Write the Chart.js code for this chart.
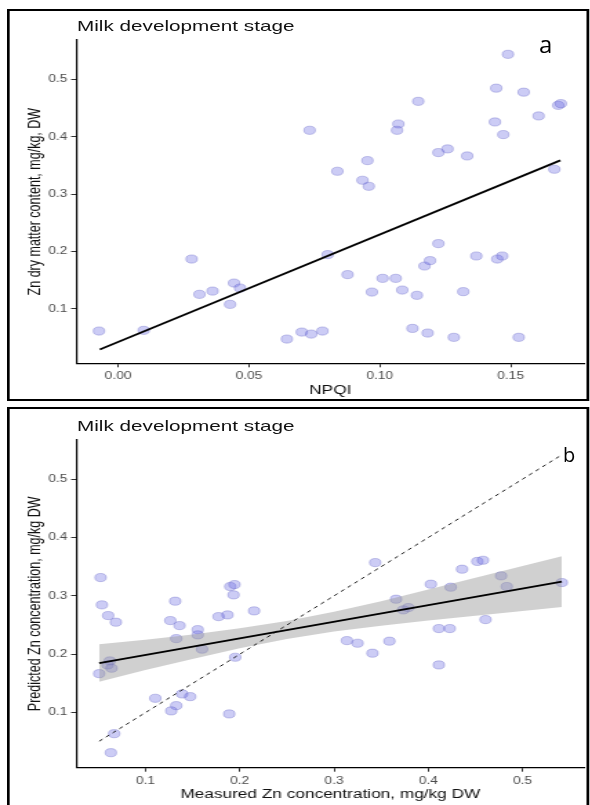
<!DOCTYPE html>
<html>
<head>
<meta charset="utf-8">
<script src="https://cdn.jsdelivr.net/npm/chart.js@4.4.0/dist/chart.umd.min.js"></script>
<style>
  html, body { margin: 0; padding: 0; background: #fff; width: 590px; height: 805px; overflow: hidden; }
  /* the original figure is stretched horizontally, so the whole thing is drawn narrow and scaled */
  #stretch { position: absolute; left: 0; top: 0; width: 428px; height: 805px; transform: scaleX(1.38); transform-origin: 0 0; }
  .panel { position: absolute; border: 2px solid #000; box-sizing: border-box; }
  canvas { position: absolute; left: 0; }
  .title { position: absolute; font: 15px 'Liberation Sans', Arial, sans-serif; line-height: 15px; color: #111; white-space: nowrap; }
  .tag { position: absolute; font-family: 'Open Sans', sans-serif; color: #000; white-space: nowrap; }
</style>
</head>
<body>
<div id="stretch">
  <canvas id="chartA" width="428" height="402" style="top:0;width:428px;height:402px"></canvas>
  <canvas id="chartB" width="428" height="401" style="top:404px;width:428px;height:401px"></canvas>
  <div class="panel" style="left:5px;top:9px;width:422px;height:392px"></div>
  <div class="panel" style="left:5px;top:407px;width:422px;height:402px"></div>
  <div class="title" style="left:55.8px;top:18px">Milk development stage</div>
  <div class="title" style="left:55.8px;top:417.5px">Milk development stage</div>
</div>
<div class="tag" style="left:539px;top:32px;font-size:24px;line-height:24px">a</div>
<div class="tag" style="left:563px;top:445px;font-size:20px;line-height:20px">b</div>

<script>
// panel a: NPQI against Zn dry matter content
const npqiA = [0.149, 0.1445, 0.155, 0.1682, 0.1692, 0.1147, 0.1607, 0.0732, 0.1071, 0.1066,
  0.144, 0.1472, 0.1224, 0.1259, 0.1334, 0.0953, 0.0838, 0.0934, 0.0958, 0.1667,
  0.0281, 0.0311, 0.0361, 0.0443, 0.0466, 0.0428, -0.0073, 0.0098, 0.0645, 0.0702,
  0.0738, 0.0781, 0.0801, 0.0877, 0.097, 0.1011, 0.1061, 0.1086, 0.1142, 0.1171,
  0.1192, 0.1224, 0.1369, 0.1449, 0.1468, 0.1319, 0.1125, 0.1183, 0.1283, 0.1531];
const znA = [0.544, 0.485, 0.478, 0.455, 0.458, 0.462, 0.4365, 0.4115, 0.4225, 0.4115,
  0.426, 0.404, 0.3726, 0.379, 0.3667, 0.3586, 0.340, 0.3243, 0.3138, 0.3435,
  0.1869, 0.1253, 0.131, 0.145, 0.1363, 0.1078, 0.0613, 0.0625, 0.0473, 0.0595,
  0.056, 0.0613, 0.1946, 0.1597, 0.1293, 0.1532, 0.1532, 0.1328, 0.1236, 0.1747,
  0.1841, 0.2138, 0.1922, 0.1869, 0.1922, 0.130, 0.0659, 0.0578, 0.0503, 0.0503];
const fitAx = [-0.007, 0.169];
const fitAy = [0.029, 0.359];
const xTicksA = [0, 0.05, 0.10, 0.15];
const yTicksA = [0.1, 0.2, 0.3, 0.4, 0.5];

// panel b: measured against predicted Zn
const measuredB = [0.0525, 0.0539, 0.1316, 0.19, 0.1945, 0.1935, 0.2153, 0.0605, 0.0687, 0.1264,
  0.1362, 0.1327, 0.1555, 0.1555, 0.1601, 0.1776, 0.1871, 0.051, 0.0623, 0.0599,
  0.0641, 0.1953, 0.1105, 0.139, 0.1475, 0.1327, 0.1274, 0.1889, 0.0669, 0.0634,
  0.3437, 0.4358, 0.452, 0.458, 0.4772, 0.4832, 0.5416, 0.4027, 0.4238, 0.3658,
  0.3735, 0.3788, 0.4607, 0.4112, 0.4228, 0.3137, 0.325, 0.3588, 0.3408, 0.4112];
const predictedB = [0.3314, 0.2846, 0.2909, 0.316, 0.3194, 0.3017, 0.2743, 0.2663, 0.2549, 0.2577,
  0.2491, 0.2268, 0.2422, 0.2332, 0.2087, 0.2645, 0.2674, 0.1668, 0.1886, 0.1817,
  0.1761, 0.1949, 0.1246, 0.132, 0.1274, 0.112, 0.103, 0.0978, 0.064, 0.0314,
  0.357, 0.3457, 0.359, 0.361, 0.3343, 0.316, 0.3228, 0.32, 0.3149, 0.2943,
  0.276, 0.28, 0.2594, 0.244, 0.244, 0.2234, 0.2189, 0.2224, 0.2018, 0.1817];
const fitBx = [0.051, 0.5416];
const fitBy = [0.185, 0.3245];
const bandX = [0.051, 0.1, 0.15, 0.2, 0.25, 0.3, 0.35, 0.4, 0.45, 0.5, 0.5416];
const bandLow = [0.153, 0.173, 0.192, 0.2105, 0.226, 0.239, 0.249, 0.258, 0.266, 0.274, 0.281];
const bandHigh = [0.217, 0.225, 0.234, 0.2445, 0.257, 0.273, 0.291, 0.311, 0.331, 0.351, 0.368];
const oneToOne = [0.051, 0.54];
const xTicksB = [0.1, 0.2, 0.3, 0.4, 0.5];
const yTicksB = [0.1, 0.2, 0.3, 0.4, 0.5];

Chart.defaults.font.family = "'Liberation Sans', Arial, sans-serif";

function pairs(xs, ys) {
  return xs.map(function(x, i) { return { x: x, y: ys[i] }; });
}

const pointStyle = {
  pointRadius: 4.1,
  pointBackgroundColor: 'rgba(100,100,225,0.33)',
  pointBorderColor: 'rgba(80,80,190,0.38)',
  pointBorderWidth: 0.8
};

function axis(o) {
  return {
    type: 'linear',
    min: o.min,
    max: o.max,
    afterBuildTicks: function(scale) {
      scale.ticks = o.ticks.map(function(v) { return { value: v }; });
    },
    afterFit: function(scale) {
      if (o.width) scale.width = o.width;
      if (o.height) scale.height = o.height;
    },
    ticks: {
      color: '#4d4d4d',
      font: { size: 10 },
      padding: o.tickPad,
      autoSkip: false,
      maxRotation: 0,
      callback: function(v) { return Number(v).toFixed(o.digits); }
    },
    grid: { drawOnChartArea: false, drawTicks: true, tickLength: o.tickLen, color: '#333', lineWidth: 1 },
    border: { display: true, color: '#000', width: 1.2 },
    title: {
      display: true,
      text: o.title,
      color: '#111',
      font: { size: 12.5 },
      padding: o.titlePad
    }
  };
}

// panel a
new Chart(document.getElementById('chartA'), {
  type: 'scatter',
  data: {
    datasets: [
      Object.assign({ data: pairs(npqiA, znA), order: 3 }, pointStyle),
      {
        data: pairs(fitAx, fitAy), showLine: true, pointRadius: 0,
        borderColor: '#000', borderWidth: 1.8, order: 1
      }
    ]
  },
  options: {
    responsive: false,
    animation: false,
    events: [],
    layout: { padding: { top: 40, right: 4.1, left: 0, bottom: 0 } },
    plugins: { legend: { display: false }, tooltip: { enabled: false } },
    scales: {
      x: axis({ min: -0.0158, max: 0.178, ticks: xTicksA, digits: 2, height: 38.7,
        tickLen: 4, tickPad: 3, title: 'NPQI', titlePad: { top: 0, bottom: 4 } }),
      y: axis({ min: 0.005, max: 0.569, ticks: yTicksA, digits: 1, width: 55.6,
        tickLen: 4.1, tickPad: 2.6, title: 'Zn dry matter content, mg/kg, DW', titlePad: { top: 17.9, bottom: 0 } })
    }
  }
});

// panel b
new Chart(document.getElementById('chartB'), {
  type: 'scatter',
  data: {
    datasets: [
      Object.assign({ data: pairs(measuredB, predictedB), order: 5 }, pointStyle),
      {
        data: pairs(bandX, bandLow), showLine: true, pointRadius: 0,
        borderWidth: 0, borderColor: 'rgba(0,0,0,0)', fill: false, order: 4
      },
      {
        data: pairs(bandX, bandHigh), showLine: true, pointRadius: 0,
        borderWidth: 0, borderColor: 'rgba(0,0,0,0)', fill: 1,
        backgroundColor: 'rgba(150,150,150,0.45)', order: 3
      },
      {
        data: pairs(oneToOne, oneToOne), showLine: true, pointRadius: 0,
        borderColor: '#000', borderWidth: 0.9, borderDash: [3.2, 3.2], order: 2
      },
      {
        data: pairs(fitBx, fitBy), showLine: true, pointRadius: 0,
        borderColor: '#000', borderWidth: 1.8, order: 1
      }
    ]
  },
  options: {
    responsive: false,
    animation: false,
    events: [],
    layout: { padding: { top: 36, right: 2.9, left: 0, bottom: 0 } },
    plugins: { legend: { display: false }, tooltip: { enabled: false } },
    scales: {
      x: axis({ min: 0.0272, max: 0.565, ticks: xTicksB, digits: 1, height: 37.3,
        tickLen: 4, tickPad: 3.5, title: 'Measured Zn concentration, mg/kg DW', titlePad: { top: 0, bottom: 2.8 } }),
      y: axis({ min: 0.0057, max: 0.567, ticks: yTicksB, digits: 1, width: 55.6,
        tickLen: 4.1, tickPad: 2.6, title: 'Predicted Zn concentration, mg/kg DW', titlePad: { top: 17.9, bottom: 0 } })
    }
  }
});
</script>
</body>
</html>
